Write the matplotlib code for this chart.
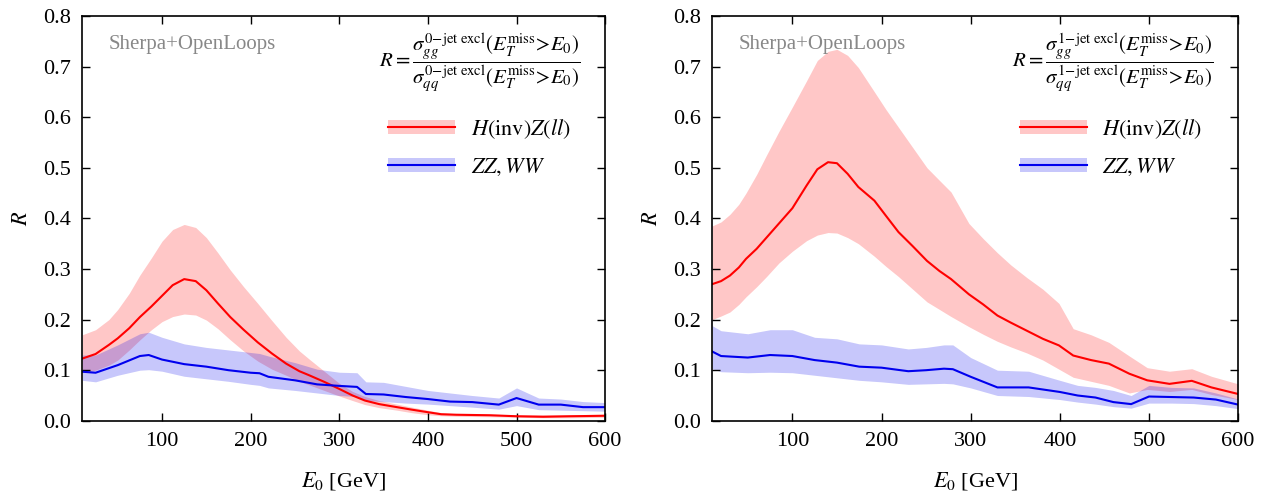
import matplotlib
matplotlib.use("Agg")
import matplotlib.pyplot as plt
from matplotlib.patches import Patch
from matplotlib.lines import Line2D

plt.rcParams["font.family"] = ["Liberation Serif", "DejaVu Serif"]
plt.rcParams["mathtext.fontset"] = "stix"

# ---- 0-jet exclusive (left) ----
hz0_x = [10, 25, 40, 50, 63, 75, 88, 100, 112, 125, 138, 150, 163, 177, 192, 208, 224, 240, 255, 266, 283, 300, 315, 329, 345, 365, 382, 400, 415, 432, 470, 500, 530, 560, 600]
hz0_y = [0.123, 0.132, 0.150, 0.163, 0.183, 0.205, 0.226, 0.247, 0.268, 0.280, 0.276, 0.258, 0.232, 0.205, 0.180, 0.155, 0.133, 0.113, 0.098, 0.090, 0.077, 0.063, 0.050, 0.040, 0.033, 0.027, 0.022, 0.017, 0.013, 0.012, 0.011, 0.009, 0.008, 0.009, 0.010]
hz0_hi = [0.170, 0.180, 0.200, 0.220, 0.252, 0.288, 0.322, 0.355, 0.378, 0.388, 0.382, 0.362, 0.332, 0.298, 0.265, 0.232, 0.198, 0.165, 0.138, 0.122, 0.098, 0.074, 0.058, 0.048, 0.040, 0.033, 0.027, 0.021, 0.016, 0.014, 0.013, 0.012, 0.012, 0.012, 0.013]
hz0_lo = [0.095, 0.100, 0.110, 0.120, 0.140, 0.160, 0.180, 0.196, 0.206, 0.211, 0.209, 0.199, 0.182, 0.160, 0.138, 0.118, 0.102, 0.090, 0.078, 0.071, 0.060, 0.049, 0.040, 0.032, 0.026, 0.021, 0.016, 0.012, 0.010, 0.009, 0.008, 0.007, 0.006, 0.006, 0.007]

vv0_x = [10, 25, 50, 75, 85, 100, 125, 150, 175, 200, 210, 220, 250, 275, 300, 320, 330, 350, 375, 400, 425, 450, 480, 500, 525, 550, 575, 600]
vv0_y = [0.097, 0.095, 0.110, 0.128, 0.130, 0.121, 0.112, 0.107, 0.100, 0.095, 0.094, 0.087, 0.080, 0.072, 0.069, 0.067, 0.053, 0.052, 0.047, 0.043, 0.038, 0.037, 0.032, 0.045, 0.032, 0.032, 0.027, 0.027]
vv0_hi = [0.130, 0.130, 0.150, 0.172, 0.175, 0.165, 0.152, 0.145, 0.140, 0.135, 0.133, 0.128, 0.115, 0.102, 0.096, 0.095, 0.077, 0.076, 0.068, 0.060, 0.055, 0.050, 0.045, 0.065, 0.045, 0.043, 0.038, 0.036]
vv0_lo = [0.080, 0.077, 0.090, 0.100, 0.101, 0.098, 0.088, 0.083, 0.078, 0.072, 0.070, 0.065, 0.060, 0.055, 0.050, 0.048, 0.040, 0.038, 0.035, 0.033, 0.030, 0.027, 0.023, 0.030, 0.022, 0.021, 0.020, 0.019]

# ---- 1-jet exclusive (right) ----
hz1_x = [10, 20, 30, 40, 48, 60, 71, 85, 100, 116, 128, 140, 150, 162, 174, 192, 205, 219, 235, 251, 265, 278, 298, 314, 330, 345, 363, 381, 399, 415, 435, 455, 478, 498, 523, 548, 570, 600]
hz1_y = [0.270, 0.276, 0.287, 0.303, 0.320, 0.340, 0.362, 0.390, 0.420, 0.465, 0.497, 0.511, 0.509, 0.488, 0.462, 0.435, 0.405, 0.373, 0.345, 0.316, 0.296, 0.280, 0.250, 0.230, 0.208, 0.194, 0.178, 0.162, 0.149, 0.129, 0.120, 0.113, 0.093, 0.080, 0.073, 0.079, 0.066, 0.053]
hz1_hi = [0.385, 0.393, 0.408, 0.428, 0.450, 0.487, 0.525, 0.572, 0.620, 0.672, 0.712, 0.730, 0.734, 0.722, 0.698, 0.650, 0.615, 0.580, 0.540, 0.500, 0.475, 0.452, 0.390, 0.360, 0.332, 0.308, 0.283, 0.260, 0.232, 0.182, 0.170, 0.155, 0.128, 0.105, 0.098, 0.103, 0.088, 0.073]
hz1_lo = [0.200, 0.207, 0.215, 0.230, 0.245, 0.265, 0.285, 0.312, 0.335, 0.356, 0.367, 0.372, 0.371, 0.362, 0.350, 0.325, 0.305, 0.285, 0.260, 0.235, 0.220, 0.206, 0.186, 0.171, 0.157, 0.146, 0.134, 0.120, 0.102, 0.086, 0.078, 0.070, 0.055, 0.062, 0.058, 0.062, 0.052, 0.042]

vv1_x = [10, 20, 50, 75, 100, 125, 150, 175, 200, 230, 250, 270, 280, 300, 330, 365, 400, 420, 440, 460, 480, 500, 525, 550, 575, 600]
vv1_y = [0.137, 0.128, 0.125, 0.130, 0.128, 0.120, 0.115, 0.107, 0.105, 0.098, 0.100, 0.103, 0.102, 0.087, 0.066, 0.066, 0.057, 0.050, 0.046, 0.037, 0.033, 0.048, 0.047, 0.046, 0.042, 0.032]
vv1_hi = [0.188, 0.178, 0.172, 0.180, 0.180, 0.165, 0.162, 0.152, 0.150, 0.142, 0.145, 0.150, 0.150, 0.125, 0.100, 0.098, 0.080, 0.070, 0.066, 0.060, 0.050, 0.070, 0.066, 0.065, 0.055, 0.043]
vv1_lo = [0.103, 0.097, 0.095, 0.096, 0.095, 0.090, 0.085, 0.080, 0.077, 0.072, 0.073, 0.074, 0.073, 0.065, 0.050, 0.048, 0.042, 0.037, 0.033, 0.028, 0.025, 0.035, 0.035, 0.034, 0.030, 0.024]

xticks = [100, 200, 300, 400, 500, 600]
yticks = [0.0, 0.1, 0.2, 0.3, 0.4, 0.5, 0.6, 0.7, 0.8]

RED = "#ff0000"
BLUE = "#0000ee"
FA = 0.22

fig = plt.figure(figsize=(12.66, 4.98), dpi=100)
ax1 = fig.add_axes([0.065, 0.155, 0.413, 0.813])
ax2 = fig.add_axes([0.5625, 0.155, 0.4155, 0.813])

panels = [
    (ax1, "0", hz0_x, hz0_y, hz0_lo, hz0_hi, vv0_x, vv0_y, vv0_lo, vv0_hi),
    (ax2, "1", hz1_x, hz1_y, hz1_lo, hz1_hi, vv1_x, vv1_y, vv1_lo, vv1_hi),
]

for ax, nj, hx, hy, hlo, hhi, vx, vy, vlo, vhi in panels:
    ax.fill_between(hx, hlo, hhi, color=RED, alpha=FA, lw=0)
    ax.fill_between(vx, vlo, vhi, color=BLUE, alpha=FA, lw=0)
    ax.plot(hx, hy, color=RED, lw=1.5)
    ax.plot(vx, vy, color=BLUE, lw=1.5)

    ax.set_xlim(10, 600)
    ax.set_ylim(0, 0.8)
    ax.set_xticks(xticks)
    ax.set_yticks(yticks)
    ax.set_yticklabels([f"{t:.1f}" for t in yticks])
    ax.tick_params(direction="in", top=True, right=True, labelsize=16,
                   length=6, width=1, pad=8)
    for s in ax.spines.values():
        s.set_linewidth(1.2)
    ax.set_xlabel(r"$E_0$ [GeV]", fontsize=16, labelpad=14)
    ax.set_ylabel(r"$R$", fontsize=16, labelpad=8)

    ax.text(0.05, 0.93, "Sherpa+OpenLoops", transform=ax.transAxes,
            color="#888888", fontsize=15, va="center", ha="left")
    sup = r"0\!-\!\mathrm{jet\ excl}" if nj == "0" else r"1\!-\!\mathrm{jet\ excl}"
    formula = (r"$R = \dfrac{\sigma_{gg}^{" + sup + r"}(E_T^{\mathrm{miss}}\!>\!E_0)}"
               r"{\sigma_{qq}^{" + sup + r"}(E_T^{\mathrm{miss}}\!>\!E_0)}$")
    ax.text(0.952, 0.885, formula, transform=ax.transAxes, fontsize=15,
            ha="right", va="center")

    h1 = (Patch(color=RED, alpha=FA, lw=0), Line2D([], [], color=RED, lw=1.5))
    h2 = (Patch(color=BLUE, alpha=FA, lw=0), Line2D([], [], color=BLUE, lw=1.5))
    ax.legend([h1, h2], [r"$H(\mathrm{inv})Z(ll)$", r"$ZZ,WW$"],
              loc="upper left", bbox_to_anchor=(0.547, 0.8), frameon=False,
              fontsize=16, handlelength=3.0, handleheight=0.57,
              labelspacing=0.72, handletextpad=0.7)

fig.savefig("out.png", dpi=100)
